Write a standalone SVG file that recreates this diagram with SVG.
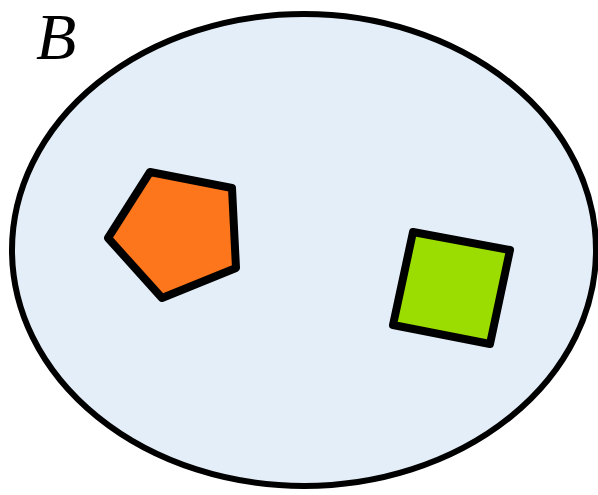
<svg xmlns="http://www.w3.org/2000/svg" width="598" height="495" viewBox="0 0 598 495">
<style>
.shape{stroke:#000;stroke-width:8;stroke-linejoin:round}
.lbl{font-family:"Liberation Serif","DejaVu Serif",serif;font-style:italic;font-size:66px;fill:#000}
</style>
<rect width="598" height="495" fill="#fff"/>
<g id="setB">
<ellipse cx="304" cy="250" rx="292" ry="236" fill="#e3eef9" stroke="#000" stroke-width="6"/>
<text class="lbl" x="36" y="59">B</text>
</g>
<g id="pentagon">
<polygon class="shape" fill="#fd761b" points="150,172 232,188 236,268 162,298 108,238"/>
</g>
<g id="square">
<polygon class="shape" fill="#9bdd00" points="413,232 510,250 490,344 393,325"/>
</g>
</svg>
